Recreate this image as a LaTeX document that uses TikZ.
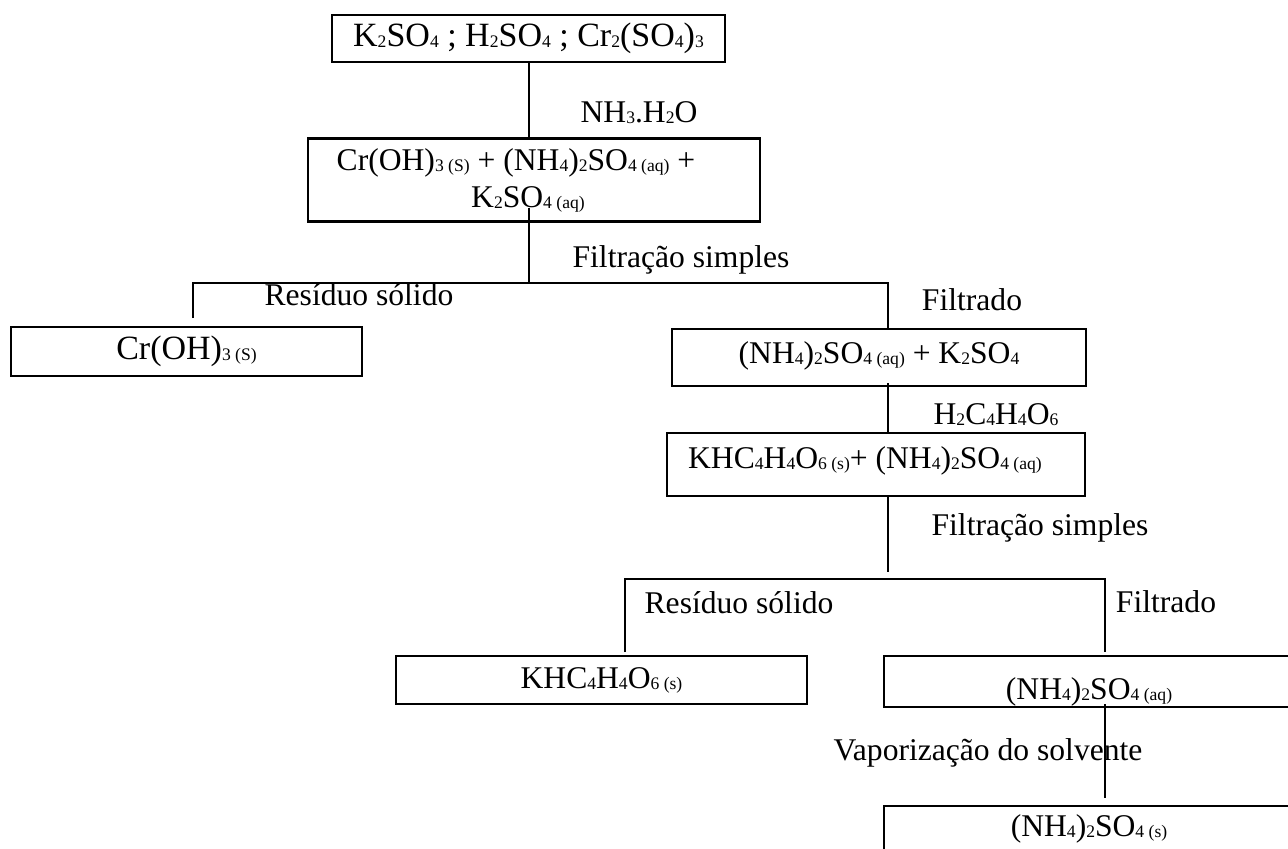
\documentclass[tikz,border=0pt]{standalone}
\usepackage{fontspec}
\setmainfont{Liberation Serif}
% small chemical indices sitting on the baseline
\newcommand\chsub[1]{\raisebox{-0.6pt}{\fontsize{8.8}{8.8}\selectfont #1}}
% move the ink of a box text without changing the box size
\newcommand\nudge[2]{\raisebox{#1}[\height][\depth]{#2}}
\begin{document}
\begin{tikzpicture}[x=0.5pt,y=-0.5pt,
  every node/.style={font=\fontsize{15.8}{18.5}\selectfont, inner sep=0pt},
  box/.style={draw, line width=1.3pt, align=center},
  bigbox/.style={box, font=\fontsize{17}{19}\selectfont},
  link/.style={line width=1pt},
  lab/.style={}]
\useasboundingbox (0,0) rectangle (1288,848);
\clip (0,0) rectangle (1288,848);

% ---- boxes ----
\node[bigbox, minimum width=196.5pt, minimum height=23.5pt] (b1) at (528.5,38.5)
  {K\chsub{2}SO\chsub{4} ; H\chsub{2}SO\chsub{4} ; Cr\chsub{2}(SO\chsub{4})\chsub{3}};
\node[box, minimum width=226pt, minimum height=41.5pt] (b2) at (534,180)
  {Cr(OH)\chsub{3 (S)} + (NH\chsub{4})\chsub{2}SO\chsub{4 (aq)} +\hspace*{18pt}\\
   K\chsub{2}SO\chsub{4 (aq)}\hspace*{6pt}};
\node[bigbox, minimum width=175.5pt, minimum height=24.5pt] (b3) at (186.5,351.5)
  {Cr(OH)\chsub{3 (S)}};
\node[box, minimum width=207pt, minimum height=28.5pt] (b4) at (879,357.5)
  {\nudge{1pt}{(NH\chsub{4})\chsub{2}SO\chsub{4 (aq)} + K\chsub{2}SO\chsub{4}}};
\node[box, minimum width=209pt, minimum height=31.5pt] (b5) at (876,464.5)
  {\nudge{2pt}{KHC\chsub{4}H\chsub{4}O\chsub{6 (s)}+ (NH\chsub{4})\chsub{2}SO\chsub{4 (aq)}}\hspace*{11pt}};
\node[box, minimum width=205.5pt, minimum height=24pt] (b6) at (601.5,680)
  {KHC\chsub{4}H\chsub{4}O\chsub{6 (s)}};
\node[box, minimum width=205pt, minimum height=25.5pt] (b7) at (1089,681.5)
  {\nudge{-5pt}{(NH\chsub{4})\chsub{2}SO\chsub{4 (aq)}}};
\node[box, minimum width=205pt, minimum height=23pt] (b8) at (1089,829)
  {(NH\chsub{4})\chsub{2}SO\chsub{4 (s)}};

% ---- step labels ----
\node[lab] (lnh) at (639,113) {NH\chsub{3}.H\chsub{2}O};
\node[lab] (lf1) at (681,260) {Filtra\c{c}\~ao simples};
\node[lab] (lr1) at (359,295) {Res\'{\i}duo s\'olido};
\node[lab] (ld1) at (972,300) {Filtrado};
\node[lab] (lta) at (996,415) {H\chsub{2}C\chsub{4}H\chsub{4}O\chsub{6}};
\node[lab] (lf2) at (1040,528) {Filtra\c{c}\~ao simples};
\node[lab] (lr2) at (739,603) {Res\'{\i}duo s\'olido};
\node[lab] (ld2) at (1166,602) {Filtrado};
\node[lab] (lv) at (988,753) {Vaporiza\c{c}\~ao do solvente};

% ---- junction points ----
\coordinate (j1) at (529,283);
\coordinate (j1l) at (193,283);
\coordinate (j1r) at (888,283);
\coordinate (e1) at (193,318);
\coordinate (j2) at (888,572);
\coordinate (j2l) at (625,579);
\coordinate (j2r) at (1105,579);
\coordinate (e2l) at (625,652);
\coordinate (e2r) at (1105,652);
\coordinate (e3) at (1105,798);

% ---- connectors ----
\draw[link] (b1.south -| j1) -- (b2.north -| j1);
\draw[link] (b2.south -| j1) ++(0,-15) -- (j1);
\draw[link] (e1) -- (j1l) -- (j1r) -- (b4.north -| j1r);
\draw[link] (b4.south -| j1r) ++(0,-4) -- (b5.north -| j1r);
\draw[link] (b5.south -| j1r) -- (j2);
\draw[link] (e2l) -- (j2l) -- (j2r) -- (e2r);
\draw[link] (b7.south -| j2r) ++(0,-4) -- (e3);
\end{tikzpicture}
\end{document}
